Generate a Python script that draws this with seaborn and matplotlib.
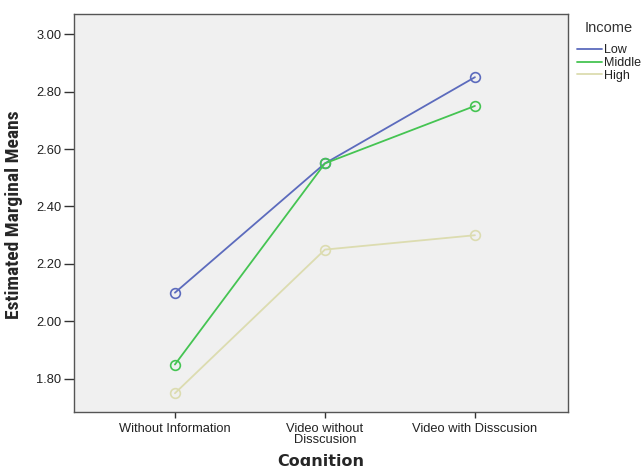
import pandas as pd
import matplotlib
matplotlib.use('Agg')
import matplotlib.pyplot as plt
from matplotlib import font_manager
import seaborn as sns

# ---------------------------------------------------
# datos
# ---------------------------------------------------
cognition = ['Without Information', 'Video without\nDisscusion', 'Video with Disscusion']
income = ['Low', 'Middle', 'High']
low_means = [2.10, 2.55, 2.85]
middle_means = [1.85, 2.55, 2.75]
high_means = [1.75, 2.25, 2.30]
y_ticks = [1.80, 2.00, 2.20, 2.40, 2.60, 2.80, 3.00]
colors = {'Low': '#5c6bbd', 'Middle': '#45c452', 'High': '#dcdcb0'}
# ---------------------------------------------------


def build_df():
    rows = []
    for name, vals in zip(income, [low_means, middle_means, high_means]):
        for c, v in zip(cognition, vals):
            rows.append({'Cognition': c, 'Income': name, 'Mean': v})
    return pd.DataFrame(rows)


def narrow_family():
    # buscar una fuente estrecha instalada para el titulo del eje y
    names = set(f.name for f in font_manager.fontManager.ttflist)
    for cand in ['Liberation Sans Narrow', 'DejaVu Sans Condensed', 'Roboto Condensed',
                 'Open Sans Condensed']:
        if cand in names:
            return cand, True
    return 'Liberation Sans', False


def wide_bold(size):
    # archivo de DejaVu Sans Bold de ancho normal (no condensado)
    for f in font_manager.fontManager.ttflist:
        if (f.name == 'DejaVu Sans' and f.weight in (700, 'bold') and f.style == 'normal'
                and f.stretch == 'normal' and 'Condensed' not in f.fname):
            return font_manager.FontProperties(fname=f.fname, size=size)
    return font_manager.FontProperties(family='DejaVu Sans', weight='bold', size=size)


def main():
    df = build_df()
    sns.set_style('white')
    plt.rcParams['font.family'] = ['Liberation Sans', 'DejaVu Sans']

    fig = plt.figure(figsize=(6.41, 4.66), dpi=100)
    ax = fig.add_axes([0.1154, 0.116, 0.7706, 0.854])
    ax.set_facecolor('#f0f0f0')

    sns.lineplot(data=df, x='Cognition', y='Mean', hue='Income', hue_order=income,
                 palette=colors, marker='o', markersize=7, linewidth=1.3,
                 sort=False, ax=ax, legend=False)
    # circulos huecos del mismo color que la linea
    for line in ax.get_lines():
        line.set_markerfacecolor('none')
        line.set_markeredgecolor(line.get_color())
        line.set_markeredgewidth(1.2)

    ax.set_xlim(-0.673, 2.62)
    ax.set_ylim(1.685, 3.07)
    ax.set_yticks(y_ticks)
    ax.set_yticklabels(['%.2f' % t for t in y_ticks])
    ax.tick_params(axis='both', which='both', width=1, color='#333333',
                   labelsize=9.3, labelcolor='#222222', direction='out',
                   left=True, bottom=True)
    ax.tick_params(axis='y', length=7, pad=2)
    ax.tick_params(axis='x', length=4, pad=4)
    for lbl in ax.get_xticklabels():
        lbl.set_linespacing(0.85)
    for s in ax.spines.values():
        s.set_color('#555555')
        s.set_linewidth(1.0)

    fam, is_narrow = narrow_family()
    ax.set_ylabel('Estimated Marginal Means', fontsize=14 if is_narrow else 11,
                  fontweight='bold', family=[fam, 'DejaVu Sans'])
    ax.yaxis.set_label_coords(-0.104, 0.495)
    ax.set_xlabel('Cognition', fontproperties=wide_bold(11.5))
    ax.xaxis.set_label_coords(0.5, -0.106)

    # leyenda a mano para que quede como la original
    handles = [plt.Line2D([], [], color=colors[n], linewidth=1.3) for n in income]
    leg = ax.legend(handles, income, title='Income', loc='upper left',
                    bbox_to_anchor=(1.0, 1.005), frameon=False, fontsize=9,
                    title_fontsize=10.5, handlelength=2.0, handletextpad=0.15,
                    labelspacing=0.05, borderaxespad=0.3)
    leg._legend_box.sep = 7
    leg.get_title().set_color('#333333')
    for t in leg.get_texts():
        t.set_color('#222222')

    fig.savefig('out.png', dpi=100)


if __name__ == "__main__":
    main()
